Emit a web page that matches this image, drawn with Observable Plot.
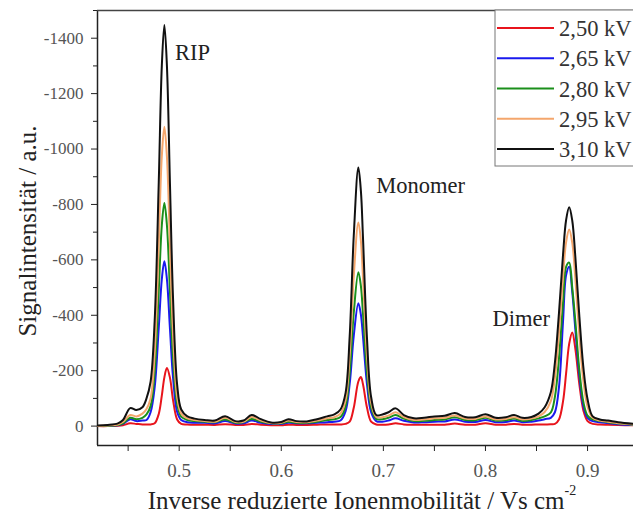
<!DOCTYPE html>
<html><head><meta charset="utf-8">
<script src="https://cdn.jsdelivr.net/npm/d3@7"></script>
<script src="https://cdn.jsdelivr.net/npm/@observablehq/plot@0.6"></script>
<style>
body{margin:0;background:#fff;}
#chart{width:633px;height:515px;overflow:hidden;}
</style></head><body><div id="chart"></div>
<script>
// Inverse reduced ion mobility (Vs/cm^2)
const mobility = [0.42,0.43,0.44,0.445,0.452,0.458,0.464,0.468,0.472,0.476,0.480,0.483,0.4855,0.488,0.491,0.494,0.498,0.502,0.508,0.515,
0.525,0.535,0.545,0.555,0.563,0.571,0.58,0.59,0.6,0.607,0.615,0.625,0.635,
0.645,0.652,0.658,0.663,0.667,0.671,0.6755,0.678,0.680,0.684,0.688,0.693,0.699,0.705,0.712,0.72,
0.73,0.74,0.75,0.76,0.77,0.78,0.79,0.80,0.81,0.82,0.828,0.836,0.845,
0.852,0.858,0.864,0.868,0.872,0.876,0.879,0.882,0.885,0.888,0.892,0.896,0.900,0.905,0.912,0.92,0.93,0.945];

// Signal intensity magnitudes (a.u.), plotted as negative values
const v250 = [0,0,1,3,10,8,6,6,6,10,44,110,176,210,174,94,24,8,6,5,
5,4,7,4,4,8,5,3,3,5,4,4,5,
6,6,6,8,16,66,161,177,152,66,16,6,5,6,10,6,
5,5,5,5,9,5,5,10,5,5,8,5,5,
6,6,7,8,24,90,191,297,338,280,150,55,18,8,6,5,4,3];
const v265 = [0,1,3,8,25,18,20,22,50,140,355,530,595,530,350,175,52,22,14,12,
12,10,18,9,10,20,12,8,8,12,10,10,12,
14,16,20,54,152,326,443,402,325,150,50,18,16,20,28,19,
13,14,16,17,24,16,15,22,14,15,20,14,16,
20,25,30,50,140,380,545,575,485,350,180,70,30,18,14,11,7,4];
const v280 = [0,1,4,10,30,25,30,42,72,195,490,725,805,725,485,245,80,34,22,18,
16,14,24,12,14,26,16,10,10,16,12,12,16,
22,25,33,72,193,409,555,505,408,190,68,26,25,30,40,27,
18,19,22,24,32,22,21,30,20,21,27,19,22,
28,35,49,105,243,448,575,590,500,380,200,85,38,24,18,14,9,5];
const v295 = [0,2,6,15,40,35,45,62,100,265,660,975,1080,972,650,330,105,45,28,22,
18,16,30,15,16,33,20,11,12,20,15,14,20,
28,32,45,94,255,540,735,668,538,250,85,33,32,38,50,33,
22,24,28,30,38,27,26,35,24,26,32,24,27,
35,51,90,175,336,540,664,710,662,535,325,160,70,30,20,16,10,6];
const v310 = [2,4,10,22,65,58,68,100,160,380,880,1300,1448,1300,870,460,150,60,35,27,
22,20,36,18,20,40,25,13,15,25,18,17,25,
35,42,60,120,324,687,933,848,684,314,105,40,42,50,64,40,
28,30,35,37,47,33,32,43,30,32,40,30,33,
45,68,122,228,408,620,744,790,742,613,394,208,97,35,24,20,14,8];

const seriesLabels = ["2,50 kV","2,65 kV","2,80 kV","2,95 kV","3,10 kV"];
const seriesValues = [v250, v265, v280, v295, v310];

const yTicks = [-1400,-1200,-1000,-800,-600,-400,-200,0];
const yMinorTicks = [-1500,-1300,-1100,-900,-700,-500,-300,-100];
const xTicks = [0.5,0.6,0.7,0.8,0.9];
const xMinorTicks = [0.45,0.55,0.65,0.75,0.85];

const peakLabels = ["RIP","Monomer","Dimer"];
const peakLabelX = [0.496,0.693,0.807];
const peakLabelY = [-1347,-868,-389];

const colors = ["#e8141c","#1a1aee","#1b8f1b","#f4a66c","#111111"];
const FONT = "'Liberation Serif', 'Times New Roman', serif";

const rows = [];
seriesValues.forEach((vals, s) => {
  vals.forEach((v, i) => rows.push({series: seriesLabels[s], x: mobility[i], y: -v}));
});
const labelRows = peakLabels.map((t, i) => ({t, x: peakLabelX[i], y: peakLabelY[i]}));

const plot = Plot.plot({
  width: 633, height: 515,
  marginLeft: 97, marginRight: 0, marginTop: 10, marginBottom: 70,
  style: {fontFamily: FONT, fontSize: "16px", background: "white", color: "#222"},
  x: {domain: [0.42, 0.945], label: null},
  y: {domain: [70, -1500], label: null},
  color: {domain: seriesLabels, range: colors},
  marks: [
    Plot.axisY({ticks: yTicks, tickFormat: d => String(d), tickSize: 6, tickPadding: 8, label: null, fontSize: 17, fill: "#555", stroke: "#222"}),
    Plot.axisY({ticks: yMinorTicks, tickFormat: () => "", tickSize: 4, label: null, stroke: "#222"}),
    Plot.axisX({ticks: xTicks, tickFormat: d => String(d), tickSize: 6, tickPadding: 12, label: null, fontSize: 19, fill: "#555", stroke: "#222"}),
    Plot.axisX({ticks: xMinorTicks, tickFormat: () => "", tickSize: 6, label: null, stroke: "#222"}),
    Plot.ruleX([0.42], {stroke: "#222", strokeWidth: 1.5}),
    Plot.ruleY([70], {stroke: "#222", strokeWidth: 1.5}),
    Plot.ruleY([-1500], {stroke: "#444", strokeWidth: 1.5}),
    Plot.line(rows, {x: "x", y: "y", z: "series", stroke: "series", strokeWidth: 2, curve: "catmull-rom", clip: true}),
    Plot.text(labelRows, {x: "x", y: "y", text: "t", textAnchor: "start", fontSize: 22.5, fill: "#222"})
  ]
});

const svg = d3.select(plot);
// axis titles
svg.append("text")
  .attr("transform", "translate(36,231) rotate(-90)")
  .attr("text-anchor", "middle")
  .style("font-family", FONT).style("font-size", "25px").attr("fill", "#222")
  .text("Signalintensität / a.u.");
const xl = svg.append("text")
  .attr("x", 362).attr("y", 509)
  .attr("text-anchor", "middle")
  .style("font-family", FONT).style("font-size", "25px").attr("fill", "#222");
xl.append("tspan").text("Inverse reduzierte Ionenmobilität / Vs cm");
xl.append("tspan").attr("dy", -14).style("font-size", "14px").text("-2");

// legend
const lg = svg.append("g");
lg.append("rect").attr("x", 495).attr("y", 10).attr("width", 160).attr("height", 156)
  .attr("fill", "white").attr("stroke", "#777");
seriesLabels.forEach((lab, i) => {
  const yy = 28 + 30.25 * i;
  lg.append("line").attr("x1", 497).attr("x2", 554).attr("y1", yy).attr("y2", yy)
    .attr("stroke", colors[i]).attr("stroke-width", 2);
  lg.append("text").attr("x", 559).attr("y", yy + 8)
    .attr("text-anchor", "start")
    .style("font-family", FONT).style("font-size", "22.5px").attr("fill", "#333").text(lab);
});

document.getElementById("chart").appendChild(plot);
</script></body></html>
